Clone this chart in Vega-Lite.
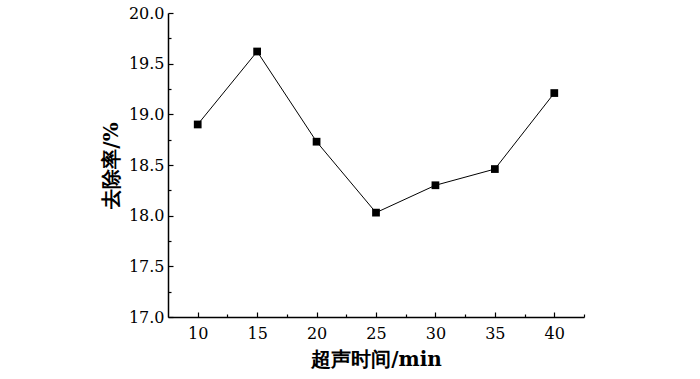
{
  "$schema": "https://vega.github.io/schema/vega-lite/v6.json",
  "autosize": "none",
  "padding": {"left": 168, "top": 13, "right": 116, "bottom": 62},
  "width": 416,
  "height": 304,
  "background": "white",
  "config": {
    "view": {"stroke": null},
    "font": "DejaVu Serif",
    "axis": {"labelFont": "DejaVu Serif", "labelFontSize": 16, "labelColor": "black", "titleFont": "DejaVu Serif", "titleFontSize": 20, "titleColor": "black", "titleFontWeight": "bold", "grid": false, "tickColor": "black", "domainColor": "black"}
  },
  "data": {"values": [
    {"t": 10, "r": 18.9},
    {"t": 15, "r": 19.62},
    {"t": 20, "r": 18.73},
    {"t": 25, "r": 18.03},
    {"t": 30, "r": 18.3},
    {"t": 35, "r": 18.46},
    {"t": 40, "r": 19.21}
  ]},
  "encoding": {
    "x": {"field": "t", "type": "quantitative", "scale": {"domain": [7.5, 42.5], "nice": false, "zero": false}},
    "y": {"field": "r", "type": "quantitative", "scale": {"domain": [17, 20], "nice": false, "zero": false}}
  },
  "layer": [
    {
      "mark": {"type": "line", "color": "black", "strokeWidth": 1},
      "encoding": {
        "x": {"field": "t", "type": "quantitative", "axis": {"orient": "bottom", "values": [10, 15, 20, 25, 30, 35, 40], "domainWidth": 1.5, "tickSize": -5, "tickWidth": 1.2, "labelPadding": 13, "title": "超声时间/min", "titlePadding": 8}},
        "y": {"field": "r", "type": "quantitative", "axis": {"orient": "left", "values": [17, 17.5, 18, 18.5, 19, 19.5, 20], "format": ".1f", "domainWidth": 1.5, "tickSize": -5, "tickWidth": 1.2, "labelPadding": 9, "title": "去除率/%", "titlePadding": 7}}
      }
    },
    {
      "mark": {"type": "square", "color": "black", "size": 60, "opacity": 1, "filled": true},
      "encoding": {
        "x": {"field": "t", "type": "quantitative", "axis": {"orient": "bottom", "values": [12.5, 17.5, 22.5, 27.5, 32.5, 37.5, 42.5], "labels": false, "title": null, "domain": false, "tickSize": -3, "tickWidth": 1.2}},
        "y": {"field": "r", "type": "quantitative", "axis": {"orient": "left", "values": [17.25, 17.75, 18.25, 18.75, 19.25, 19.75], "labels": false, "title": null, "domain": false, "tickSize": -3, "tickWidth": 1.2}}
      }
    }
  ],
  "resolve": {"axis": {"x": "independent", "y": "independent"}}
}
